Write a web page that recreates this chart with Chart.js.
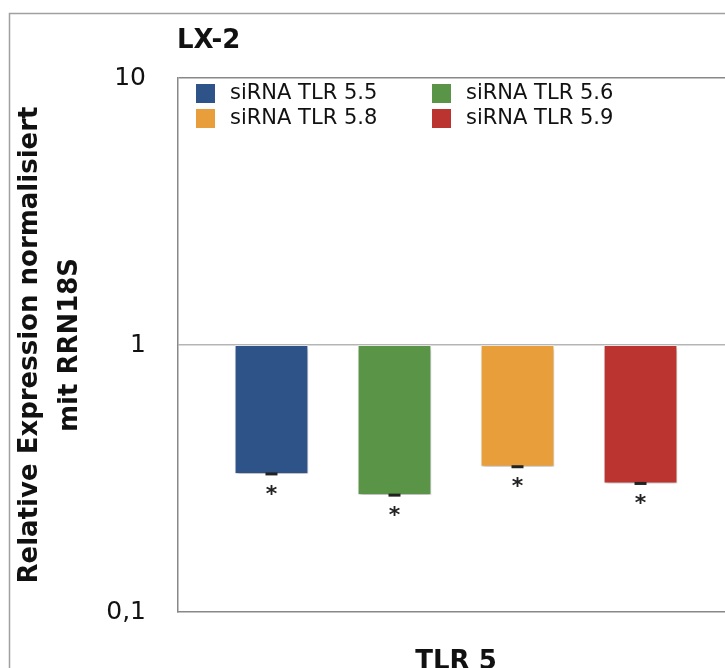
<!DOCTYPE html>
<html><head><meta charset="utf-8">
<script src="https://cdn.jsdelivr.net/npm/chart.js@4/dist/chart.umd.min.js"></script>
<style>html,body{margin:0;padding:0;background:#fff;overflow:hidden;width:725px;height:668px}canvas{display:block}</style>
</head><body>
<canvas id="c" width="760" height="668" style="width:760px;height:668px"></canvas>
<script>
const categories = ['TLR 5'];
const seriesLabels = ['siRNA TLR 5.5','siRNA TLR 5.6','siRNA TLR 5.8','siRNA TLR 5.9'];
const seriesValues = [0.329, 0.274, 0.350, 0.303];
const seriesErrors = [0.004, 0.003, 0.004, 0.003];
const significance = ['*','*','*','*'];
const seriesColors = ['#2D5389','#5A9447','#E89E3B','#BB3430'];
const legendOrder = [0, 1, 2, 3];
const yTickValues = [0.1, 1, 10];
const yTickLabels = ['0,1', '1', '10'];
const chartTitle = 'LX-2';
const yTitleLines = ['Relative Expression normalisiert', 'mit RRN18S'];
const FONT = '"DejaVu Sans", Verdana, sans-serif';

const datasets = seriesLabels.map((lab, i) => ({
  label: lab,
  data: [[seriesValues[i], 1]],
  backgroundColor: seriesColors[i],
  borderColor: 'rgba(255,255,255,0.35)',
  borderWidth: 1,
  borderSkipped: false,
  categoryPercentage: 0.885,
  barPercentage: 0.6
}));

const decor = {
  id: 'decor',
  beforeDraw(chart) {
    const ctx = chart.ctx;
    ctx.save();
    ctx.strokeStyle = '#a0a0a0';
    ctx.lineWidth = 1.5;
    ctx.beginPath();
    ctx.moveTo(9.5, 700); ctx.lineTo(9.5, 13.5); ctx.lineTo(800, 13.5);
    ctx.stroke();
    ctx.restore();
  },
  beforeDatasetsDraw(chart) {
    const ctx = chart.ctx;
    ctx.save();
    ctx.shadowColor = 'rgba(0,0,0,0.28)';
    ctx.shadowBlur = 4;
    ctx.shadowOffsetX = 1;
    ctx.shadowOffsetY = 3;
  },
  afterDatasetsDraw(chart) {
    const ctx = chart.ctx;
    ctx.restore();
    const y = chart.scales.y;
    ctx.save();
    chart.data.datasets.forEach((ds, i) => {
      const bar = chart.getDatasetMeta(i).data[0];
      const v = seriesValues[i], e = seriesErrors[i];
      let y1 = y.getPixelForValue(v - e), y2 = y.getPixelForValue(v + e);
      if (y1 - y2 < 3) { const m = (y1 + y2) / 2; y1 = m + 1.5; y2 = m - 1.5; }
      ctx.fillStyle = '#222';
      ctx.fillRect(bar.x - 6, y2, 12, y1 - y2);
      ctx.font = 'bold 22px ' + FONT;
      ctx.textAlign = 'center';
      ctx.textBaseline = 'middle';
      ctx.fillText(significance[i], bar.x, y.getPixelForValue(v) + 21);
    });
    // legend
    const ca = chart.chartArea;
    ctx.font = '21px ' + FONT;
    ctx.textAlign = 'left';
    ctx.textBaseline = 'middle';
    legendOrder.forEach((di, k) => {
      const col = k % 2, row = Math.floor(k / 2);
      const bx = ca.left + 18 + col * 236;
      const by = ca.top + 15 + row * 25;
      ctx.fillStyle = seriesColors[di];
      ctx.fillRect(bx, by - 9, 19, 19);
      ctx.fillStyle = '#111';
      ctx.fillText(seriesLabels[di], bx + 34, by + 1);
    });
    // title
    ctx.font = 'bold 26px ' + FONT;
    ctx.fillStyle = '#111';
    ctx.textBaseline = 'alphabetic';
    ctx.fillText(chartTitle, ca.left - 1, 48);
    // y title
    ctx.save();
    ctx.translate(0, (ca.top + ca.bottom) / 2);
    ctx.rotate(-Math.PI / 2);
    ctx.font = 'bold 26px ' + FONT;
    ctx.textAlign = 'center';
    ctx.textBaseline = 'middle';
    ctx.fillText(yTitleLines[0], 0, 30);
    ctx.fillText(yTitleLines[1], 0, 70);
    ctx.restore();
    ctx.restore();
  }
};

new Chart(document.getElementById('c'), {
  type: 'bar',
  data: { labels: categories, datasets },
  options: {
    responsive: false,
    animation: false,
    layout: { padding: { left: 0, top: 78, right: 26, bottom: 0 } },
    plugins: { legend: { display: false }, tooltip: { enabled: false } },
    scales: {
      x: {
        grid: { display: false },
        border: { display: true, color: '#888', width: 1.5 },
        ticks: { color: '#111', font: { family: FONT, size: 26, weight: 'bold' }, padding: 27 },
        afterFit(s) { s.height = 56; }
      },
      y: {
        type: 'logarithmic',
        min: 0.1, max: 10,
        afterBuildTicks(s) { s.ticks = yTickValues.map(v => ({ value: v })); },
        afterFit(s) { s.width = 178; },
        grid: {
          drawTicks: false,
          color: c => (c.tick && c.tick.value === 1) ? '#b5b5b5' : (c.tick && c.tick.value === 10 ? '#888' : 'rgba(0,0,0,0)'),
          lineWidth: 1.5
        },
        border: { display: true, color: '#888', width: 1.5 },
        ticks: {
          padding: 32,
          color: '#111',
          font: { family: FONT, size: 25 },
          callback: v => { const i = yTickValues.indexOf(v); return i >= 0 ? yTickLabels[i] : ''; }
        }
      }
    }
  },
  plugins: [decor]
});
</script>
</body></html>
